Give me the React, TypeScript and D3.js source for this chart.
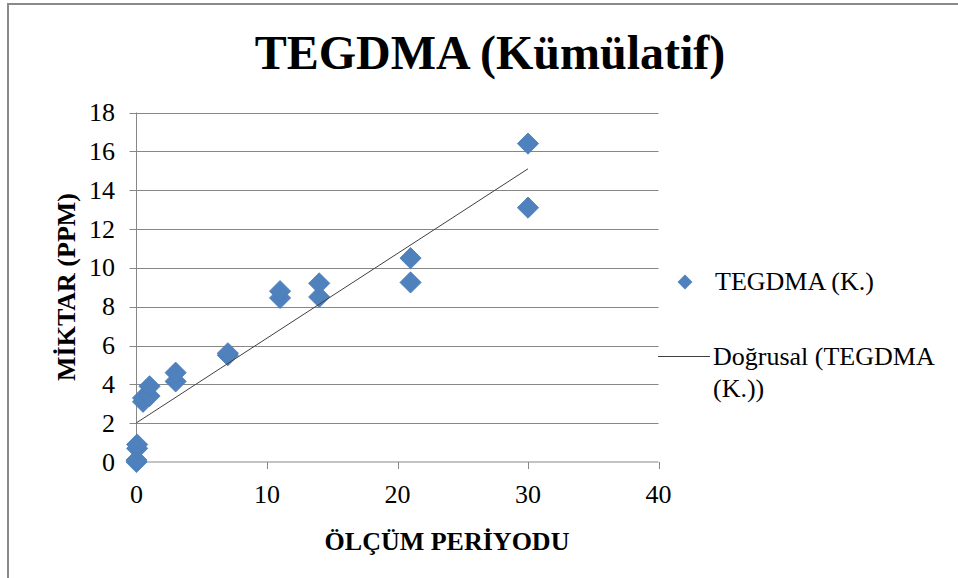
import React from "react";
import * as d3 from "d3";

const WIDTH = 958;
const HEIGHT = 578;
const FONT = "'Liberation Serif', 'Times New Roman', serif";

const PERIODS = [0, 0, 0.05, 0.05, 0.5, 0.5, 1, 1, 3, 3, 7, 7, 11, 11, 14, 14, 21, 21, 30, 30];
const AMOUNTS = [0.0, 0.1, 0.7, 0.9, 3.1, 3.3, 3.4, 3.9, 4.15, 4.6, 5.5, 5.6, 8.45, 8.8, 8.5, 9.2, 9.25, 10.5, 13.1, 16.4];

// linear trend line as drawn in the chart
const TREND_SLOPE = 0.436;
const TREND_INTERCEPT = 2.02;
const TREND_RANGE = [0, 30];

const X_TICKS = [0, 10, 20, 30, 40];
const Y_TICKS = [0, 2, 4, 6, 8, 10, 12, 14, 16, 18];

const TITLE = "TEGDMA (Kümülatif)";
const X_TITLE = "ÖLÇÜM PERİYODU";
const Y_TITLE = "MİKTAR (PPM)";
const LEGEND_POINTS = "TEGDMA (K.)";
const LEGEND_TREND = ["Doğrusal (TEGDMA", "(K.))"];

const PLOT = { left: 136.5, right: 658.5, top: 112.5, bottom: 462 };
const BLUE = "#4f81bd";
const GRID = "#878787";

export default function App() {
  const x = d3.scaleLinear().domain([0, 40]).range([PLOT.left, PLOT.right]);
  const y = d3.scaleLinear().domain([0, 18]).range([PLOT.bottom, PLOT.top]);

  const diamond = d3.symbol().type(d3.symbolSquare).size(225)() as string;
  const legendDiamond = d3.symbol().type(d3.symbolSquare).size(110)() as string;

  const trend = d3.line<number>()
    .x((d) => x(d))
    .y((d) => y(TREND_INTERCEPT + TREND_SLOPE * d))(TREND_RANGE) as string;

  const points = PERIODS.map((p, i) => ({ p, v: AMOUNTS[i] }));

  return (
    <svg
      width={WIDTH}
      height={HEIGHT}
      style={{ position: "absolute", left: 0, top: 0, background: "#fff" }}
      fontFamily={FONT}
    >
      <rect x={8} y={4} width={1200} height={1200} fill="#fff" stroke="#8a8a8a" strokeWidth={2} />

      <text x={490} y={69} textAnchor="middle" fontSize={48} fontWeight="bold">
        {TITLE}
      </text>

      {/* gridlines */}
      {Y_TICKS.filter((t) => t > 0).map((t) => (
        <line key={"g" + t} x1={PLOT.left} x2={PLOT.right} y1={Math.round(y(t)) + 0.5} y2={Math.round(y(t)) + 0.5} stroke={GRID} strokeWidth={1} />
      ))}

      {/* axes */}
      <line x1={PLOT.left} x2={PLOT.left} y1={PLOT.top} y2={PLOT.bottom} stroke={GRID} />
      <line x1={PLOT.left - 7} x2={PLOT.right} y1={PLOT.bottom} y2={PLOT.bottom} stroke={GRID} />
      {Y_TICKS.map((t) => (
        <g key={"y" + t}>
          <line x1={PLOT.left - 7} x2={PLOT.left} y1={Math.round(y(t)) + 0.5} y2={Math.round(y(t)) + 0.5} stroke={GRID} />
          <text x={115} y={y(t) + 8.5} textAnchor="end" fontSize={26}>{t}</text>
        </g>
      ))}
      {X_TICKS.map((t) => (
        <g key={"x" + t}>
          <line x1={Math.round(x(t)) + 0.5} x2={Math.round(x(t)) + 0.5} y1={PLOT.bottom} y2={PLOT.bottom + 7} stroke={GRID} />
          <text x={x(t)} y={503} textAnchor="middle" fontSize={26}>{t}</text>
        </g>
      ))}

      <text x={447} y={550} textAnchor="middle" fontSize={26} fontWeight="bold">{X_TITLE}</text>
      <text transform={`translate(75,287) rotate(-90)`} textAnchor="middle" fontSize={26} fontWeight="bold">{Y_TITLE}</text>

      {/* data points */}
      {points.map((d, i) => (
        <path
          key={i}
          d={diamond}
          transform={`translate(${x(d.p)},${y(d.v)}) rotate(45)`}
          fill={BLUE}
          stroke="#4a7ebb"
          strokeWidth={0.8}
        />
      ))}

      {/* trend line */}
      <path d={trend} fill="none" stroke="#404040" strokeWidth={1} />

      {/* legend */}
      <path d={legendDiamond} transform="translate(685,282) rotate(45)" fill={BLUE} />
      <text x={715} y={290} fontSize={26}>{LEGEND_POINTS}</text>
      <line x1={658} x2={710} y1={356.5} y2={356.5} stroke="#404040" />
      {LEGEND_TREND.map((s, i) => (
        <text key={s} x={713} y={365 + i * 32} fontSize={26}>{s}</text>
      ))}
    </svg>
  );
}
